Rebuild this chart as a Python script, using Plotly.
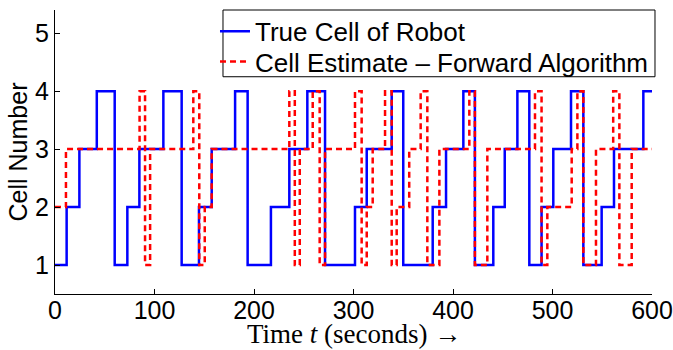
import plotly.graph_objects as go

# True cell of robot: change times (s) and cell values
true_t = [0, 11.7, 24.5, 42, 60, 72.7, 84.8, 108.9, 127.3, 144.7, 157.5, 181, 193.6, 217, 235.5,
          253.6, 271.4, 301.5, 313.3, 338.4, 350, 379.6, 393, 410.4, 422, 440.5, 452, 464.7,
          476.7, 489, 500.8, 518.6, 531, 549.4, 561.8, 591.3, 600]
true_cell = [1, 2, 3, 4, 1, 2, 3, 4, 1, 2, 3, 4, 1, 2, 3,
             4, 1, 2, 3, 4, 1, 2, 3, 4, 1, 2, 3, 4,
             1, 2, 3, 4, 1, 2, 3, 4, 4]

# Forward algorithm estimate: change times (s) and cell values
est_t = [0, 11, 85, 90.5, 95.6, 139, 145, 150.5, 157.5, 235.5, 241, 246, 259, 266, 271.4,
         301.5, 308.2, 313.3, 319.3, 331.7, 338.4, 343.4, 356, 367.5, 374.2, 386.3, 416.4, 422,
         434.5, 482.4, 489, 494.8, 519.3, 525, 531, 543.7, 561, 567.2, 579.6, 600]
est_cell = [2, 3, 4, 1, 3, 4, 1, 2, 3, 4, 1, 3, 4, 1, 3,
            4, 1, 2, 3, 4, 1, 2, 3, 4, 1, 3, 4, 1,
            3, 4, 1, 2, 3, 4, 1, 3, 4, 1, 3, 3]

x_ticks = [0, 100, 200, 300, 400, 500, 600]
y_ticks = [1, 2, 3, 4, 5]

SANS = "Liberation Sans, Arial, sans-serif"
SERIF = "Liberation Serif, Times New Roman, serif"

fig = go.Figure()
fig.add_trace(go.Scatter(x=true_t, y=true_cell, mode="lines", line_shape="hv",
                         name="True Cell of Robot", legend="legend",
                         line=dict(color="#0000FF", width=2.5)))
fig.add_trace(go.Scatter(x=est_t, y=est_cell, mode="lines", line_shape="hv",
                         name="Cell Estimate \u2013 Forward Algorithm", legend="legend2",
                         line=dict(color="#FF0000", width=2.5, dash="6px,4px")))

leg_common = dict(xanchor="left", yanchor="middle", bgcolor="rgba(0,0,0,0)",
                  borderwidth=0, font=dict(family=SANS, size=26, color="black"),
                  itemwidth=30)

fig.update_layout(
    width=673, height=350,
    margin=dict(l=55, r=21, t=10, b=56, autoexpand=False),
    paper_bgcolor="white", plot_bgcolor="white",
    font=dict(family=SANS, size=25, color="black"),
    showlegend=True,
    legend=dict(x=0.268, y=0.925, **leg_common),
    legend2=dict(x=0.268, y=0.818, **leg_common),
    shapes=[dict(type="rect", xref="paper", yref="paper",
                 x0=0.2814, x1=1.005, y0=0.765, y1=1.0,
                 line=dict(color="black", width=1), fillcolor="white", layer="above")],
    annotations=[dict(text="Time <i>t</i> (seconds) \u2192", xref="paper", yref="paper",
                      x=0.5, y=-0.197, xanchor="center", yanchor="bottom", showarrow=False,
                      borderpad=0,
                      font=dict(family=SERIF, size=27, color="black"))],
    xaxis=dict(range=[0, 600], tickvals=x_ticks, ticks="inside", ticklen=5,
               tickcolor="black", showline=True, linecolor="black", linewidth=1,
               showgrid=False, zeroline=False, mirror=False, automargin=False,
               tickfont=dict(family=SANS, size=25), ticklabelstandoff=-6),
    yaxis=dict(range=[0.5, 5.4], tickvals=y_ticks, ticks="inside", ticklen=5,
               tickcolor="black", showline=True, linecolor="black", linewidth=1,
               showgrid=False, zeroline=False, mirror=False, automargin=False,
               tickfont=dict(family=SANS, size=25),
               title=dict(text="Cell Number", font=dict(family=SANS, size=25), standoff=0)),
)

fig.write_html("out.html")
